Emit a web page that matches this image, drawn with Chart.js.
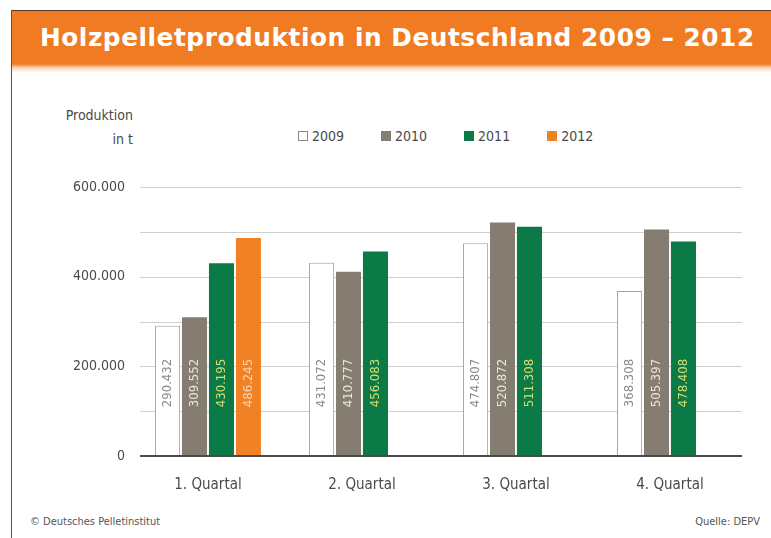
<!DOCTYPE html>
<html>
<head>
<meta charset="utf-8">
<script src="https://cdn.jsdelivr.net/npm/chart.js@4"></script>
<style>
  html, body { margin: 0; padding: 0; background: #fff; }
  #wrap { position: relative; width: 771px; height: 538px; overflow: hidden; font-family: "DejaVu Sans Condensed", "DejaVu Sans", sans-serif; }
  #frame-left { position: absolute; left: 11px; top: 10px; width: 1px; height: 528px; background: #555; }
  #band { position: absolute; left: 12px; top: 10px; right: 0; height: 62px;
          border-top: 1px solid #5a3b22;
          background: linear-gradient(to bottom, #f07b22 0px, #f07b22 53px, #fbd9bd 57px, #fff 62px); }
  #title { position: absolute; left: 40px; top: 23px; color: #fff; font-weight: bold; font-size: 25px;
           white-space: nowrap; transform-origin: 0 0; letter-spacing: 0.5px; }
  #ytitle { position: absolute; right: 638px; top: 103px; text-align: right; color: #4a4a4a; font-size: 14px; line-height: 24px; }
  #legend { position: absolute; left: 298px; top: 128px; display: flex; gap: 0; color: #4a4a4a; font-size: 14px; }
  #legend span.item { display: flex; align-items: center; margin-right: 37px; }
  #legend span.box { display: inline-block; width: 10px; height: 10px; margin-right: 4px; box-sizing: border-box; }
  .foot { position: absolute; top: 515px; color: #555; font-size: 11px; }
  canvas { position: absolute; left: 0; top: 0; }
</style>
</head>
<body>
<div id="wrap">
  <div id="band"></div>
  <div id="frame-left"></div>
  <div id="title">Holzpelletproduktion in Deutschland 2009 – 2012</div>
  <div id="ytitle">Produktion<br>in t</div>
  <div id="legend"></div>
  <div class="foot" style="left:30px">© Deutsches Pelletinstitut</div>
  <div class="foot" style="right:11px">Quelle: DEPV</div>
  <canvas id="chart" width="771" height="538"></canvas>
</div>
<script>
// daten
const quartale = ['1. Quartal', '2. Quartal', '3. Quartal', '4. Quartal'];
const jahre = ['2009', '2010', '2011', '2012'];
const werte2009 = [290432, 431072, 474807, 368308];
const werte2010 = [309552, 410777, 520872, 505397];
const werte2011 = [430195, 456083, 511308, 478408];
const werte2012 = [486245, null, null, null];
const yTicks = [0, 200000, 400000, 600000];

const fill = ['#ffffff', '#857d71', '#0b7a46', '#f18125'];
const border = ['#a3a3a3', '#857d71', '#0b7a46', '#f18125'];
const labelColor = ['#8a8a8a', '#ece6d8', '#d4de72', '#fbd2ae'];

// zahl mit punkt als tausendertrennzeichen
function fmt(v) {
  return String(v).replace(/\B(?=(\d{3})+(?!\d))/g, '.');
}

// titel auf breite bringen
const title = document.getElementById('title');
title.style.transform = 'scaleX(' + (715 / title.offsetWidth) + ')';

// legende
const legend = document.getElementById('legend');
jahre.forEach((j, i) => {
  const it = document.createElement('span');
  it.className = 'item';
  it.innerHTML = `<span class="box" style="background:${fill[i]};border:1px solid ${i === 0 ? '#888' : fill[i]}"></span>${j}`;
  legend.appendChild(it);
});

// gitterlinien + nulllinie
const gridPlugin = {
  id: 'grid',
  beforeDatasetsDraw(chart) {
    const { ctx, chartArea, scales } = chart;
    ctx.save();
    ctx.strokeStyle = '#cfcfcf';
    ctx.lineWidth = 1;
    for (let v = 100000; v <= 600000; v += 100000) {
      const y = Math.round(scales.y.getPixelForValue(v)) + 0.5;
      ctx.beginPath();
      ctx.moveTo(chartArea.left + 9, y);
      ctx.lineTo(chartArea.right - 5, y);
      ctx.stroke();
    }
    ctx.restore();
  },
  afterDatasetsDraw(chart) {
    const { ctx, chartArea, scales } = chart;
    // werte in den balken
    ctx.save();
    ctx.font = '13px "DejaVu Sans Condensed", "DejaVu Sans", sans-serif';
    ctx.textAlign = 'center';
    ctx.textBaseline = 'middle';
    const base = scales.y.getPixelForValue(0);
    chart.data.datasets.forEach((ds, i) => {
      chart.getDatasetMeta(i).data.forEach((bar, k) => {
        if (ds.data[k] == null) return;
        ctx.save();
        ctx.translate(bar.x, base - 73);
        ctx.rotate(-Math.PI / 2);
        ctx.fillStyle = labelColor[i];
        ctx.fillText(fmt(ds.data[k]), 0, 0);
        ctx.restore();
      });
    });
    // nulllinie
    ctx.strokeStyle = '#4a4a4a';
    ctx.lineWidth = 2;
    ctx.beginPath();
    ctx.moveTo(chartArea.left + 9, base);
    ctx.lineTo(chartArea.right - 5, base);
    ctx.stroke();
    ctx.restore();
  }
};

const serien = [werte2009, werte2010, werte2011, werte2012];

new Chart(document.getElementById('chart'), {
  type: 'bar',
  data: {
    labels: quartale,
    datasets: serien.map((d, i) => ({
      label: jahre[i],
      data: d,
      backgroundColor: fill[i],
      borderColor: border[i],
      borderWidth: i === 0 ? 1 : 0,
      categoryPercentage: 0.70,
      barPercentage: 0.93
    }))
  },
  options: {
    responsive: false,
    animation: false,
    layout: { padding: { top: 187, right: 24, bottom: 22, left: 0 } },
    plugins: { legend: { display: false }, tooltip: { enabled: false } },
    scales: {
      x: {
        grid: { display: false },
        border: { display: false },
        ticks: { color: '#4a4a4a', font: { family: '"DejaVu Sans Condensed", "DejaVu Sans", sans-serif', size: 15 }, padding: 12 },
        afterFit(s) { s.height = 60; }
      },
      y: {
        min: 0,
        max: 600000,
        grid: { display: false },
        border: { display: false },
        afterBuildTicks(s) { s.ticks = yTicks.map(v => ({ value: v })); },
        ticks: {
          color: '#4a4a4a',
          font: { family: '"DejaVu Sans Condensed", "DejaVu Sans", sans-serif', size: 14 },
          padding: -2,
          callback: v => fmt(v)
        },
        afterFit(s) { s.width = 131; }
      }
    }
  },
  plugins: [gridPlugin]
});
</script>
</body>
</html>
